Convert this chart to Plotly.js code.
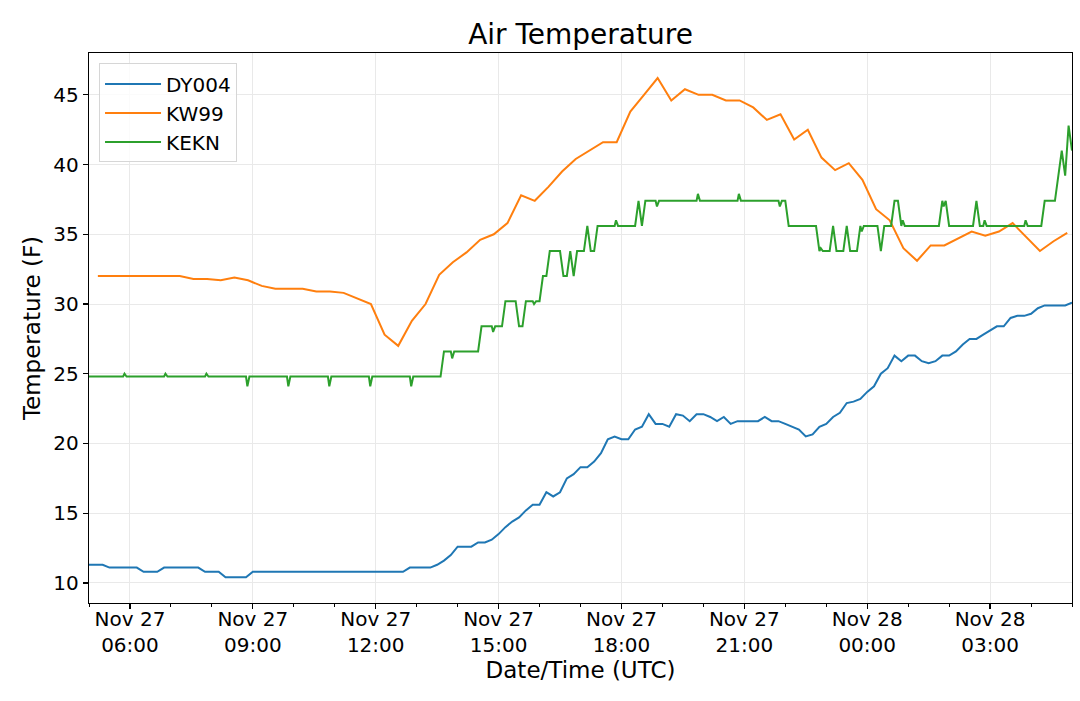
<!DOCTYPE html>
<html>
<head>
<meta charset="utf-8">
<script src="https://cdn.plot.ly/plotly-3.0.1.min.js"></script>
<style>
  body { margin: 0; background: #fff; }
  #graph { width: 1080px; height: 701px; }
</style>
</head>
<body>
<div id="graph"></div>
<script>
/* ---------------- data (deg F, UTC) ---------------- */
// times are "DD HH:MM" in November

var dyTimes = [
  '27 05:00','27 05:20','27 05:30','27 06:10','27 06:20','27 06:40','27 06:50','27 07:40','27 07:50','27 08:10','27 08:20','27 08:50','27 09:00',
  '27 12:40','27 12:50','27 13:20','27 13:30','27 13:40','27 13:50','27 14:00',
  '27 14:20','27 14:30','27 14:40','27 14:50','27 15:00',
  '27 15:10','27 15:20','27 15:30','27 15:40','27 15:50','27 16:00',
  '27 16:10','27 16:20','27 16:30','27 16:40','27 16:50','27 17:00',
  '27 17:10','27 17:20','27 17:30','27 17:40','27 17:50','27 18:00',
  '27 18:10','27 18:20','27 18:30','27 18:40','27 18:50','27 19:00',
  '27 19:10','27 19:20','27 19:30','27 19:40','27 19:50','27 20:00',
  '27 20:10','27 20:20','27 20:30','27 20:40','27 20:50',
  '27 21:20','27 21:30','27 21:40','27 21:50','27 22:00',
  '27 22:10','27 22:20','27 22:30','27 22:40','27 22:50','27 23:00',
  '27 23:10','27 23:20','27 23:30','27 23:40','27 23:50','28 00:00',
  '28 00:10','28 00:20','28 00:30','28 00:40','28 00:50','28 01:00',
  '28 01:10','28 01:20','28 01:30','28 01:40','28 01:50','28 02:00',
  '28 02:10','28 02:20','28 02:30','28 02:40','28 02:50','28 03:00',
  '28 03:10','28 03:20','28 03:30','28 03:40','28 03:50','28 04:00',
  '28 04:10','28 04:20','28 04:50','28 05:00'
];
var dyTemps = [
  11.3, 11.3, 11.1, 11.1, 10.8, 10.8, 11.1, 11.1, 10.8, 10.8, 10.4, 10.4, 10.8,
  10.8, 11.1, 11.1, 11.3, 11.6, 12.0, 12.6,
  12.6, 12.9, 12.9, 13.1, 13.5,
  14.0, 14.4, 14.7, 15.2, 15.6, 15.6,
  16.5, 16.2, 16.5, 17.5, 17.8, 18.3,
  18.3, 18.7, 19.3, 20.3, 20.5, 20.3,
  20.3, 21.0, 21.2, 22.1, 21.4, 21.4,
  21.2, 22.1, 22.0, 21.6, 22.1, 22.1,
  21.9, 21.6, 21.9, 21.4, 21.6,
  21.6, 21.9, 21.6, 21.6, 21.4,
  21.2, 21.0, 20.5, 20.65, 21.2, 21.4,
  21.9, 22.2, 22.9, 23.0, 23.2, 23.7,
  24.1, 25.0, 25.4, 26.3, 25.9, 26.3,
  26.3, 25.9, 25.75, 25.9, 26.3, 26.3,
  26.6, 27.1, 27.5, 27.5, 27.8, 28.1,
  28.4, 28.4, 29.0, 29.15, 29.15, 29.3,
  29.7, 29.9, 29.9, 30.1
];

var kwTimes = [
  '27 05:13','27 05:33','27 05:53','27 06:13','27 06:33','27 06:53','27 07:13','27 07:33','27 07:53',
  '27 08:13','27 08:33','27 08:53','27 09:13','27 09:33','27 09:53','27 10:13','27 10:33','27 10:53',
  '27 11:13','27 11:33','27 11:53','27 12:13','27 12:33','27 12:53','27 13:13','27 13:33','27 13:53',
  '27 14:13','27 14:33','27 14:53','27 15:13','27 15:33','27 15:53','27 16:13','27 16:33','27 16:53',
  '27 17:13','27 17:33','27 17:53','27 18:13','27 18:33','27 18:53','27 19:13','27 19:33','27 19:53',
  '27 20:13','27 20:33','27 20:53','27 21:13','27 21:33','27 21:53','27 22:13','27 22:33','27 22:53',
  '27 23:13','27 23:33','27 23:53','28 00:13','28 00:33','28 00:53','28 01:13','28 01:33','28 01:53',
  '28 02:13','28 02:33','28 02:53','28 03:13','28 03:33','28 03:53','28 04:13','28 04:33','28 04:53'
];
var kwTemps = [
  32.0, 32.0, 32.0, 32.0, 32.0, 32.0, 32.0, 31.8, 31.8,
  31.7, 31.9, 31.7, 31.3, 31.1, 31.1, 31.1, 30.9, 30.9,
  30.8, 30.4, 30.0, 27.8, 27.0, 28.8, 30.0, 32.1, 33.0,
  33.7, 34.6, 35.0, 35.8, 37.8, 37.4, 38.4, 39.5, 40.4,
  41.0, 41.6, 41.6, 43.8, 45.0, 46.2, 44.6, 45.4, 45.0,
  45.0, 44.6, 44.6, 44.1, 43.2, 43.6, 41.8, 42.5, 40.5,
  39.6, 40.1, 38.9, 36.8, 36.0, 34.0, 33.1, 34.2, 34.2,
  34.7, 35.2, 34.9, 35.2, 35.8, 34.8, 33.8, 34.5, 35.1
];

// KEKN: vertices of the plotted line (5-min obs plus the hourly report)
var keTimes = [
  '27 05:00','27 05:50','27 05:52','27 05:55','27 06:50','27 06:52','27 06:55','27 07:50','27 07:52','27 07:55',
  '27 08:50','27 08:52','27 08:55','27 09:50','27 09:52','27 09:55','27 10:50','27 10:52','27 10:55',
  '27 11:50','27 11:52','27 11:55','27 12:50','27 12:52','27 12:55',
  '27 13:35','27 13:40','27 13:50','27 13:52','27 13:55',
  '27 14:30','27 14:35','27 14:50','27 14:52','27 14:55',
  '27 15:05','27 15:10','27 15:25','27 15:30','27 15:35','27 15:40','27 15:50','27 15:52','27 15:55',
  '27 16:00','27 16:05','27 16:10','27 16:15','27 16:30','27 16:35','27 16:40','27 16:45','27 16:50','27 16:55',
  '27 17:05','27 17:10','27 17:15','27 17:20','27 17:25','27 17:50','27 17:52','27 17:55',
  '27 18:20','27 18:25','27 18:30','27 18:35','27 18:50','27 18:52','27 18:55',
  '27 19:50','27 19:52','27 19:55','27 20:50','27 20:52','27 20:55','27 21:50','27 21:52','27 21:55',
  '27 22:00','27 22:05','27 22:45','27 22:50','27 22:52','27 22:55',
  '27 23:05','27 23:10','27 23:15','27 23:25','27 23:30','27 23:35','27 23:45','27 23:50','27 23:52','27 23:55',
  '28 00:15','28 00:20','28 00:25','28 00:35','28 00:40','28 00:45','28 00:50','28 00:52','28 00:55',
  '28 01:45','28 01:50','28 01:52','28 01:55','28 02:00',
  '28 02:35','28 02:40','28 02:45','28 02:50','28 02:52','28 02:55',
  '28 03:50','28 03:52','28 03:55',
  '28 04:15','28 04:20','28 04:35','28 04:45','28 04:50','28 04:55','28 05:00'
];
var keTemps = [
  24.8, 24.8, 25.0, 24.8, 24.8, 25.0, 24.8, 24.8, 25.0, 24.8,
  24.8, 24.1, 24.8, 24.8, 24.1, 24.8, 24.8, 24.1, 24.8,
  24.8, 24.1, 24.8, 24.8, 24.1, 24.8,
  24.8, 26.6, 26.6, 26.1, 26.6,
  26.6, 28.4, 28.4, 28.0, 28.4,
  28.4, 30.2, 30.2, 28.4, 28.4, 30.2, 30.2, 30.0, 30.2,
  30.2, 32.0, 32.0, 33.8, 33.8, 32.0, 32.0, 33.8, 32.0, 33.8,
  33.8, 35.6, 33.8, 33.8, 35.6, 35.6, 36.0, 35.6,
  35.6, 37.4, 35.6, 37.4, 37.4, 37.0, 37.4,
  37.4, 37.9, 37.4, 37.4, 37.9, 37.4, 37.4, 37.0, 37.4,
  37.4, 35.6, 35.6, 33.8, 34.0, 33.8,
  33.8, 35.6, 33.8, 33.8, 35.6, 33.8, 33.8, 35.6, 35.2, 35.6,
  35.6, 33.8, 35.6, 35.6, 37.4, 37.4, 35.6, 36.0, 35.6,
  35.6, 37.4, 37.0, 37.4, 35.6,
  35.6, 37.4, 35.6, 35.6, 36.0, 35.6,
  35.6, 36.0, 35.6,
  35.6, 37.4, 37.4, 41.0, 39.2, 42.8, 41.0
];

var stationNames = ['DY004', 'KW99', 'KEKN'];
var stationColors = ['#1f77b4', '#ff7f0e', '#2ca02c'];

/* ---------------- helpers ---------------- */

function stamp(t) {
    return '2018-11-' + t.slice(0, 2) + ' ' + t.slice(3);
}

function makeTrace(i, times, temps) {
    return {
        x: times.map(stamp),
        y: temps,
        mode: 'lines',
        type: 'scatter',
        name: stationNames[i],
        line: { color: stationColors[i], width: 2 }
    };
}

var font = 'DejaVu Sans, Liberation Sans, sans-serif';

var data = [
    makeTrace(0, dyTimes, dyTemps),
    makeTrace(1, kwTimes, kwTemps),
    makeTrace(2, keTimes, keTemps)
];

var layout = {
    width: 1080,
    height: 701,
    paper_bgcolor: '#ffffff',
    plot_bgcolor: '#ffffff',
    font: { family: font, size: 20, color: '#000000' },
    margin: { l: 89, r: 8, t: 53, b: 98 },
    title: {
        text: 'Air Temperature',
        font: { family: font, size: 28, color: '#000000' },
        x: 0.5,
        xref: 'paper',
        xanchor: 'center',
        y: 1,
        yref: 'paper',
        yanchor: 'bottom',
        pad: { b: 9 }
    },
    showlegend: true,
    legend: {
        x: 0.0102,
        y: 0.981,
        xanchor: 'left',
        yanchor: 'top',
        bgcolor: 'rgba(255,255,255,0.8)',
        bordercolor: '#d6d6d6',
        borderwidth: 1,
        itemwidth: 56,
        font: { family: font, size: 20, color: '#000000' }
    },
    xaxis: {
        type: 'date',
        range: ['2018-11-27 05:00', '2018-11-28 05:00'],
        tick0: '2018-11-27 06:00',
        dtick: 3 * 3600000,
        tickformat: '%b %d<br>%H:%M',
        ticks: 'outside',
        ticklen: 5,
        tickwidth: 1.2,
        tickcolor: '#000000',
        ticklabelstandoff: -7,
        minor: {
            dtick: 3600000,
            ticks: 'outside',
            ticklen: 3,
            tickwidth: 1,
            tickcolor: '#000000',
            showgrid: false
        },
        showgrid: true,
        gridcolor: '#e9e9e9',
        gridwidth: 1,
        showline: true,
        mirror: true,
        linecolor: '#000000',
        linewidth: 1.2,
        zeroline: false,
        automargin: false,
        tickfont: { family: font, size: 20, color: '#000000' },
        title: {
            text: 'Date/Time (UTC)',
            font: { family: font, size: 23, color: '#000000' },
            standoff: 4
        }
    },
    yaxis: {
        range: [8.56, 48.0],
        tick0: 10,
        dtick: 5,
        ticks: 'outside',
        ticklen: 5,
        tickwidth: 1.2,
        tickcolor: '#000000',
        showgrid: true,
        gridcolor: '#e9e9e9',
        gridwidth: 1,
        showline: true,
        mirror: true,
        linecolor: '#000000',
        linewidth: 1.2,
        zeroline: false,
        automargin: false,
        tickfont: { family: font, size: 20, color: '#000000' },
        title: {
            text: 'Temperature (F)',
            font: { family: font, size: 23, color: '#000000' },
            standoff: 6
        }
    }
};

var graph = document.getElementById('graph');
Plotly.newPlot(graph, data, layout, { staticPlot: true, displayModeBar: false });
</script>
</body>
</html>
